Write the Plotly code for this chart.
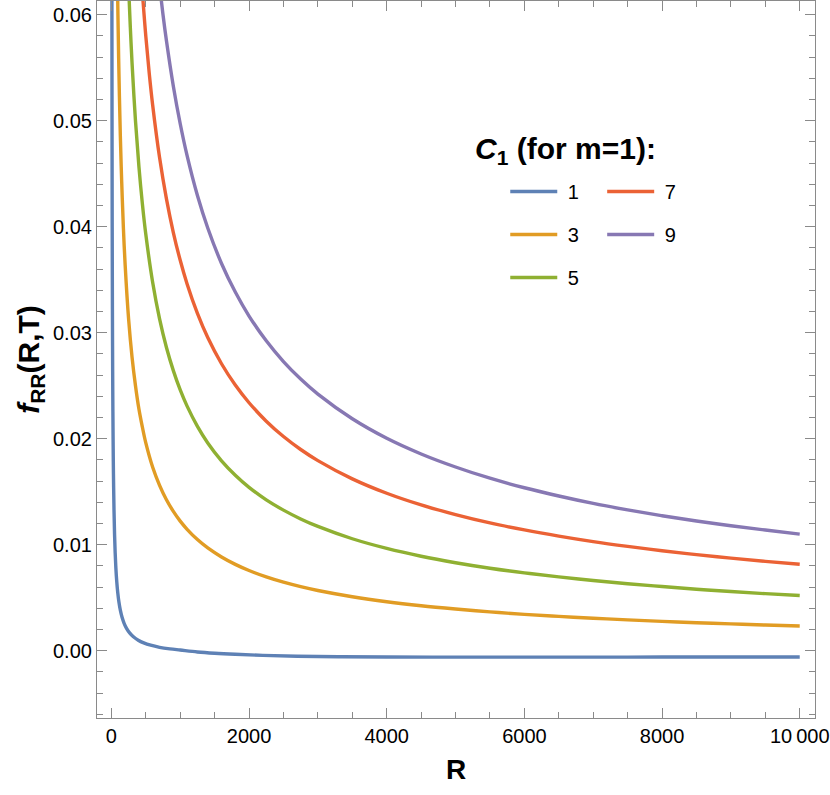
import plotly.graph_objects as go

# values: f_RR(R,T) vs R for several C1 (m = 1)
r_c1 = [7, 8, 9, 10, 12, 14, 17, 20, 25, 30, 38, 46, 55, 65, 78, 92, 110, 130, 155,
        185, 220, 265, 320, 390, 470, 570, 700, 850, 1000, 1250, 1500, 1800, 2200,
        2700, 3300, 4000, 5000, 6000, 7000, 8000, 9000, 10000]
f_c1 = [0.0663, 0.0585, 0.0524, 0.0474, 0.0399, 0.0345, 0.0287, 0.0246, 0.0199,
        0.0167, 0.0133, 0.0110, 0.00924, 0.00782, 0.00651, 0.0055, 0.00456, 0.00382,
        0.00315, 0.00258, 0.00211, 0.00168, 0.00131, 0.00099, 0.00074, 0.00052,
        0.00032, 0.00017, 0.00006, -0.00012, -0.00024, -0.00034, -0.00044, -0.00052,
        -0.00057, -0.0006, -0.00061, -0.00061, -0.00061, -0.0006, -0.0006, -0.0006]

r_c3 = [85, 95, 110, 130, 150, 175, 200, 250, 300, 350, 400, 450, 500, 600, 700, 800,
        900, 1000, 1100, 1250, 1400, 1600, 1800, 2000, 2250, 2500, 2750, 3000, 3500,
        4000, 4500, 5000, 5500, 6000, 6500, 7000, 7500, 8000, 8500, 9000, 9500, 10000]
f_c3 = [0.0646, 0.0600, 0.0544, 0.0486, 0.0442, 0.0398, 0.0364, 0.0313, 0.0277,
        0.0250, 0.0228, 0.0211, 0.0196, 0.0173, 0.0156, 0.01424, 0.01314, 0.01222,
        0.01145, 0.01048, 0.00969, 0.00884, 0.00814, 0.00756, 0.00696, 0.00646,
        0.00604, 0.00568, 0.00509, 0.00462, 0.00424, 0.00393, 0.00366, 0.00343,
        0.00324, 0.00306, 0.00291, 0.00277, 0.00264, 0.00253, 0.00242, 0.00233]

r_c5 = [250, 275, 300, 350, 400, 450, 500, 600, 700, 800, 900, 1000, 1100, 1250, 1400,
        1600, 1800, 2000, 2250, 2500, 2750, 3000, 3500, 4000, 4500, 5000, 5500, 6000,
        6500, 7000, 7500, 8000, 8500, 9000, 9500, 10000]
f_c5 = [0.06271, 0.05881, 0.05546, 0.04998, 0.04567, 0.04218, 0.03928, 0.03473,
        0.0313, 0.0286, 0.02642, 0.0246, 0.02307, 0.02116, 0.0196, 0.01791, 0.01655,
        0.01541, 0.01423, 0.01326, 0.01243, 0.01172, 0.01056, 0.00965, 0.00891,
        0.00830, 0.00778, 0.00734, 0.00696, 0.00662, 0.00631, 0.00605, 0.00580,
        0.00558, 0.00538, 0.00520]

r_c7 = [450, 500, 550, 600, 700, 800, 900, 1000, 1100, 1250, 1400, 1600, 1800, 2000,
        2250, 2500, 2750, 3000, 3500, 4000, 4500, 5000, 5500, 6000, 6500, 7000, 7500,
        8000, 8500, 9000, 9500, 10000]
f_c7 = [0.06213, 0.05798, 0.05447, 0.05146, 0.04652, 0.04262, 0.03945, 0.03683,
        0.0346, 0.03182, 0.02954, 0.02707, 0.02506, 0.02339, 0.02165, 0.0202,
        0.01898, 0.01793, 0.01621, 0.01485, 0.01375, 0.01284, 0.01205, 0.01139,
        0.01081, 0.01029, 0.00984, 0.00943, 0.00906, 0.00873, 0.00843, 0.00815]

r_c9 = [700, 750, 800, 900, 1000, 1100, 1250, 1400, 1600, 1800, 2000, 2250, 2500, 2750,
        3000, 3500, 4000, 4500, 5000, 5500, 6000, 6500, 7000, 7500, 8000, 8500, 9000,
        9500, 10000]
f_c9 = [0.06279, 0.0600, 0.05753, 0.05325, 0.04971, 0.0467, 0.04294, 0.03988,
        0.03653, 0.03383, 0.03157, 0.02923, 0.02727, 0.02562, 0.0242, 0.02188,
        0.02004, 0.01856, 0.01733, 0.01627, 0.01537, 0.01459, 0.01389, 0.01328,
        0.01273, 0.01223, 0.01179, 0.01138, 0.0110]

c1_labels = ["1", "3", "5", "7", "9"]
colors = ["#5E81B5", "#E19C24", "#8FB032", "#EB6235", "#8778B3"]

x_tickvals = [0, 2000, 4000, 6000, 8000, 10000]
x_ticktext = ["0", "2000", "4000", "6000", "8000", "10\u2009000"]
y_tickvals = [0.00, 0.01, 0.02, 0.03, 0.04, 0.05, 0.06]

series = [(r_c1, f_c1), (r_c3, f_c3), (r_c5, f_c5), (r_c7, f_c7), (r_c9, f_c9)]
# two legend columns, like the reference: 1/3/5 on the left, 7/9 on the right
legends = ["legend", "legend", "legend", "legend2", "legend2"]

FONT = "Arial, Liberation Sans, sans-serif"
FRAME = "#8a8a8a"

fig = go.Figure()
for (r, f), lab, col, leg in zip(series, c1_labels, colors, legends):
    fig.add_trace(go.Scatter(
        x=r, y=f, mode="lines", name="\u00a0" + lab, legend=leg, legendgroup=lab,
        line=dict(color=col, width=3.4, shape="spline", smoothing=1.0),
    ))

axis_common = dict(
    showline=True, linecolor=FRAME, linewidth=1.2, mirror="allticks",
    ticks="inside", ticklen=10, tickcolor=FRAME, tickwidth=1,
    showgrid=False, zeroline=False, automargin=False,
    tickfont=dict(family=FONT, size=20, color="black"),
)

fig.update_xaxes(
    range=[-209, 10222], tickvals=x_tickvals, ticktext=x_ticktext,
    minor=dict(dtick=500, tick0=0, ticks="inside", ticklen=6, tickcolor=FRAME, showgrid=False),
    title=dict(text="<b>R</b>", font=dict(family=FONT, size=28, color="black"), standoff=13),
    **axis_common,
)
fig.update_yaxes(
    range=[-0.00635, 0.06129], tickvals=y_tickvals, tickformat=".2f",
    minor=dict(dtick=0.002, tick0=0, ticks="inside", ticklen=6, tickcolor=FRAME, showgrid=False),
    title=dict(text="<b><i>f</i><sub>RR</sub>(R,T)</b>",
               font=dict(family=FONT, size=30, color="black"), standoff=4),
    **axis_common,
)

legend_common = dict(
    font=dict(family=FONT, size=20, color="black"),
    bgcolor="rgba(0,0,0,0)", tracegroupgap=14, itemwidth=47,
    xanchor="left", yanchor="top", traceorder="grouped",
)

fig.update_layout(
    width=830, height=795,
    margin=dict(l=97, r=15, t=1, b=77),
    plot_bgcolor="white", paper_bgcolor="white",
    showlegend=True,
    legend=dict(x=0.5686, y=0.7616, **legend_common),
    legend2=dict(x=0.7036, y=0.7616, **legend_common),
    annotations=[dict(
        text="<b><i>C</i><sub>1</sub> (for m=1):</b>", xref="paper", yref="paper",
        x=0.523, y=0.791, xanchor="left", yanchor="middle", showarrow=False,
        font=dict(family=FONT, size=30, color="black"),
    )],
)

# the page body has an 8px default margin; drop it so the figure fills the window
fig.write_html("out.html", config={"displayModeBar": False},
               post_script="document.body.style.margin = '0';")
